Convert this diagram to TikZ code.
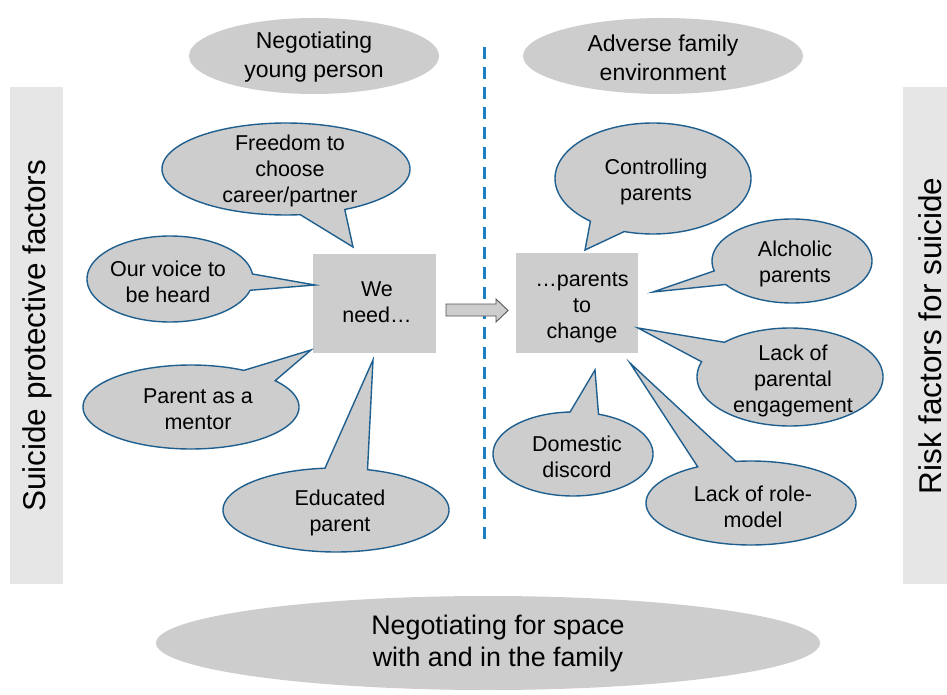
\documentclass[tikz,border=0pt]{standalone}
\usepackage{fontspec}
\setmainfont{Liberation Sans}
\definecolor{calfill}{HTML}{CDCDCD}
\definecolor{caledge}{HTML}{1F5F8F}
\definecolor{barfill}{HTML}{E6E6E6}
\definecolor{dashblue}{HTML}{1E7FC4}
\definecolor{arrowedge}{HTML}{555555}
\newcommand{\callout}[7]{% cx cy rx ry a1 a2 tip
  \filldraw[callout] plot[domain=#5:#6, samples=120] ({#1+#3*cos(\x)},{#2+#4*sin(\x)}) -- (#7) -- cycle;}
\begin{document}
\begin{tikzpicture}[x=1pt,y=-1pt,
  callout/.style={fill=calfill, draw=caledge, line width=1.4pt, line join=miter},
  txt/.style={align=center, font=\fontsize{21.5}{26}\selectfont, inner sep=0pt, yshift=-2.5pt},
  bigtxt/.style={align=center, font=\fontsize{23}{29}\selectfont, inner sep=0pt, yshift=-1.5pt},
  sidetxt/.style={font=\fontsize{31.5}{36}\selectfont, inner sep=0pt, rotate=90},
  boxnode/.style={fill=calfill, draw=none, align=center, font=\fontsize{21.5}{26}\selectfont, inner sep=0pt}]
\useasboundingbox (0,0) rectangle (947,695);
% side bars
\fill[barfill] (10,87) rectangle (63,584);
\fill[barfill] (903,87) rectangle (947,584);
\node[sidetxt] (protect) at (37,336) {Suicide protective factors};
\node[sidetxt] (risk) at (930,336) {Risk factors for suicide};
% heading ellipses
\fill[calfill] (314,56) ellipse [x radius=125, y radius=38];
\node[bigtxt] (young) at (314,56) {Negotiating\\young person};
\fill[calfill] (663,56) ellipse [x radius=140, y radius=38];
\node[bigtxt] (adverse) at (663,56) {Adverse family\\environment};
\fill[calfill] (488,643) ellipse [x radius=332, y radius=47];
\node[align=center, font=\fontsize{26.8}{32}\selectfont, inner sep=0pt, yshift=-2.5pt] (space) at (498,641) {Negotiating for space\\with and in the family};
% dashed divider
\coordinate (dtop) at (484,47);
\coordinate (dbot) at (484,541);
\draw[dashblue, line width=3pt, dash pattern=on 12pt off 8pt] (dtop) -- (dbot);
% boxes
\node[boxnode, minimum width=123pt, minimum height=99pt] (need) at (374.5,303.5) {};
\node[txt] (needtxt) at (377,300) {We\\need…};
\node[boxnode, minimum width=122pt, minimum height=100pt] (change) at (577,303) {};
\node[txt] (changetxt) at (582,305) {…parents\\to\\change};
% block arrow
\filldraw[fill=calfill, draw=arrowedge, line width=0.9pt, line join=miter]
  (446,304) -- (496,304) -- (496,299) -- (508,310.5) -- (496,322) -- (496,316) -- (446,316) -- cycle;
% tips
\coordinate (t1) at (353,247);
\coordinate (t2) at (315,285);
\coordinate (t3) at (311,350);
\coordinate (t4) at (373,360);
\coordinate (t5) at (585,250);
\coordinate (t6) at (653,292);
\coordinate (t7) at (638,328);
\coordinate (t8) at (595,370);
\coordinate (t9) at (630,363);
% left callouts
\callout{286}{169}{124}{46}{83.4}{421.7}{t1}
\node[txt] (freedom) at (290,168) {Freedom to\\choose\\career/partner};
\callout{170}{279}{83}{43}{15.2}{353.3}{t2}
\node[txt] (voice) at (168,279) {Our voice to\\be heard};
\callout{191}{407}{108}{42}{-38.8}{299.3}{t3}
\node[txt] (mentor) at (198,407) {Parent as a\\mentor};
\callout{336}{510}{113}{42}{-73.8}{264.4}{t4}
\node[txt] (educated) at (340,510) {Educated\\parent};
% right callouts
\callout{653}{178.5}{98}{55.5}{129.7}{467.1}{t5}
\node[txt] (controlling) at (656,179) {Controlling\\parents};
\callout{792}{261}{80}{42}{166.4}{506}{t6}
\node[txt] (alcholic) at (795,261) {Alcholic\\parents};
\callout{790}{377}{93}{49}{225.1}{558.1}{t7}
\node[txt] (engagement) at (793,378) {Lack of\\parental\\engagement};
\callout{573}{454}{80}{42}{288.6}{627.9}{t8}
\node[txt] (discord) at (577,454) {Domestic\\discord};
\callout{751}{503}{105}{42}{261.7}{599.5}{t9}
\node[txt] (rolemodel) at (753,504) {Lack of role-\\model};
\end{tikzpicture}
\end{document}
